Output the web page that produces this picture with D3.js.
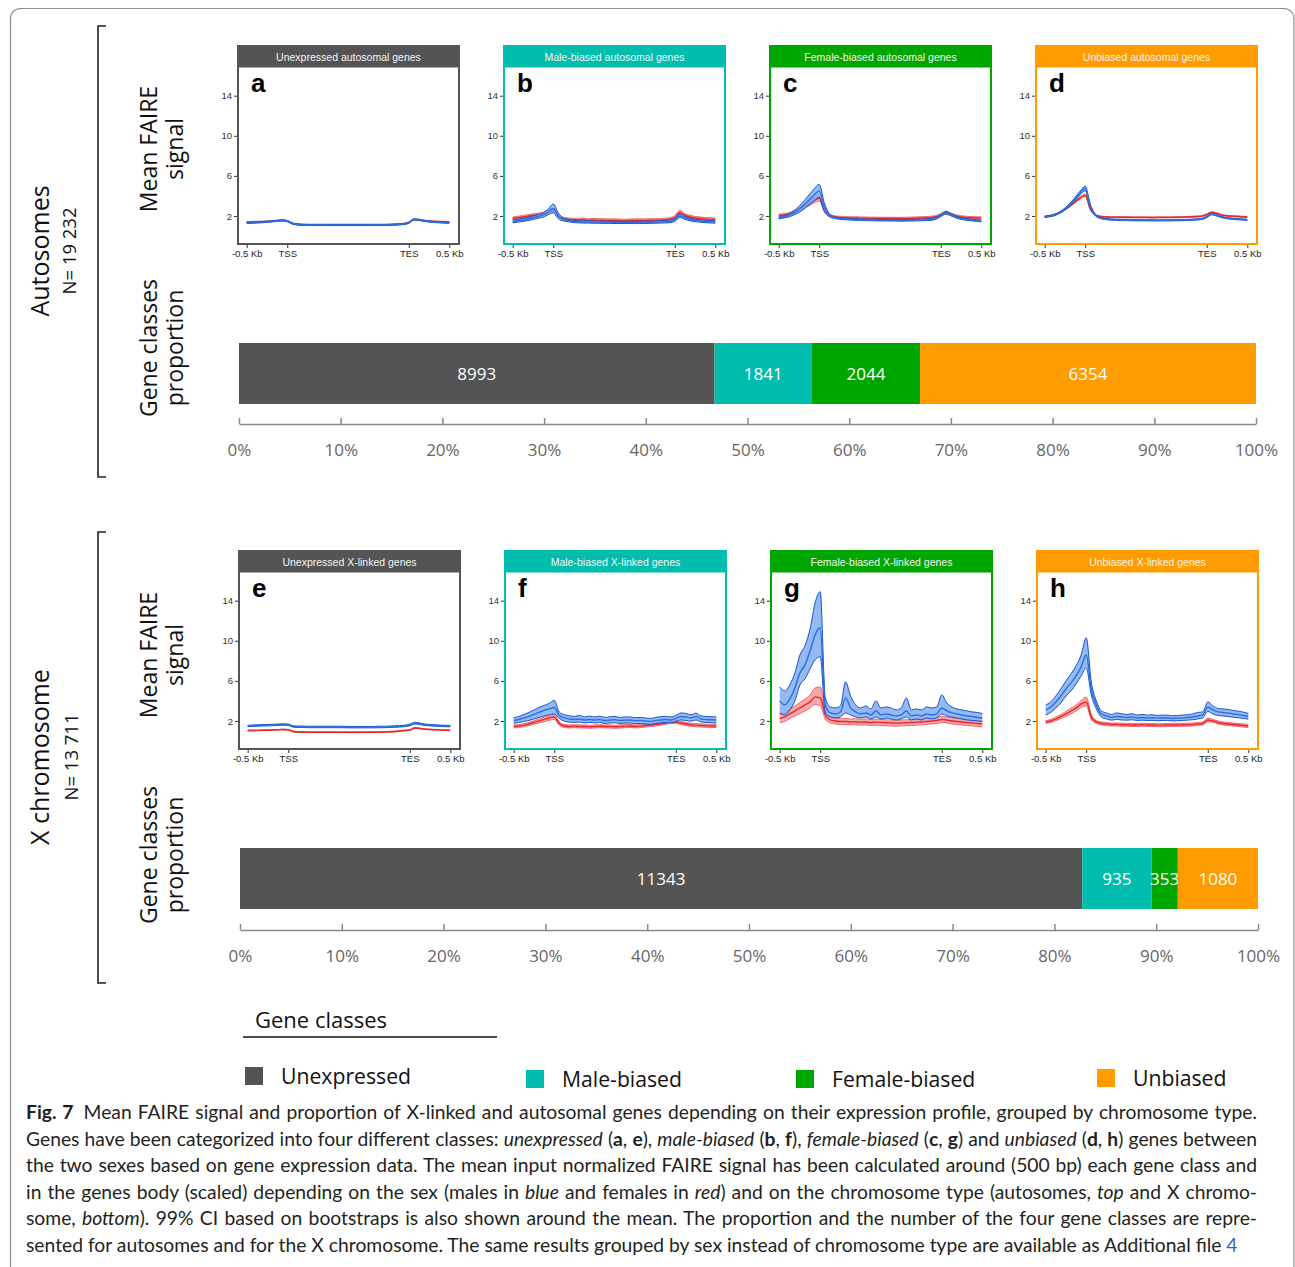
<!DOCTYPE html>
<html>
<head>
<meta charset="utf-8">
<script src="https://cdn.jsdelivr.net/npm/d3@7"></script>
<style>
  body { margin: 0; background: #fff; }
  svg { display: block; }
</style>
</head>
<body>
<div id="chart"></div>
<script>

// ---- data ----

// profile bins: -0.5 Kb = 0, TSS = 1, TES = 4, 0.5 Kb = 5
var binPos = [0,0.125,0.25,0.375,0.5,0.625,0.75,0.875,1,1.125,1.25,1.375,1.5,1.625,1.75,1.875,2,2.125,2.25,2.375,2.5,2.625,2.75,2.875,3,3.125,3.25,3.375,3.5,3.625,3.75,3.875,4,4.125,4.25,4.375,4.5,4.625,4.75,4.875,5];
var profileTicks = [0, 1, 4, 5];
var profileTickLabels = ["-0.5 Kb", "TSS", "TES", "0.5 Kb"];
var signalTicks = [2, 6, 10, 14];

// a - unexpressed autosomal
var aMale   = [1.30,1.32,1.35,1.38,1.42,1.46,1.52,1.57, 1.50,1.25,1.16,1.12,1.10,1.10,1.10,1.10, 1.10,1.10,1.10,1.10,1.10,1.10,1.10,1.10, 1.10,1.10,1.10,1.10,1.11,1.13,1.16,1.20, 1.32,1.66,1.62,1.52,1.45,1.40,1.37,1.34, 1.32];
var aMaleLo = [1.24,1.26,1.29,1.32,1.36,1.40,1.46,1.51, 1.44,1.19,1.10,1.06,1.04,1.04,1.04,1.04, 1.04,1.04,1.04,1.04,1.04,1.04,1.04,1.04, 1.04,1.04,1.04,1.04,1.05,1.07,1.10,1.14, 1.26,1.60,1.56,1.46,1.39,1.34,1.31,1.28, 1.26];
var aMaleHi = [1.36,1.38,1.41,1.44,1.48,1.52,1.58,1.63, 1.56,1.31,1.22,1.18,1.16,1.16,1.16,1.16, 1.16,1.16,1.16,1.16,1.16,1.16,1.16,1.16, 1.16,1.16,1.16,1.16,1.17,1.19,1.22,1.26, 1.38,1.72,1.68,1.58,1.51,1.46,1.43,1.40, 1.38];
var aFem    = [1.40,1.40,1.42,1.43,1.45,1.48,1.52,1.55, 1.48,1.24,1.16,1.13,1.12,1.12,1.12,1.12, 1.12,1.12,1.12,1.12,1.12,1.12,1.12,1.12, 1.12,1.12,1.12,1.12,1.13,1.15,1.18,1.22, 1.34,1.62,1.60,1.53,1.48,1.45,1.43,1.42, 1.40];
var aFemLo  = [1.35,1.35,1.37,1.38,1.40,1.43,1.47,1.50, 1.43,1.19,1.11,1.08,1.07,1.07,1.07,1.07, 1.07,1.07,1.07,1.07,1.07,1.07,1.07,1.07, 1.07,1.07,1.07,1.07,1.08,1.10,1.13,1.17, 1.29,1.57,1.55,1.48,1.43,1.40,1.38,1.37, 1.35];
var aFemHi  = [1.45,1.45,1.47,1.48,1.50,1.53,1.57,1.60, 1.53,1.29,1.21,1.18,1.17,1.17,1.17,1.17, 1.17,1.17,1.17,1.17,1.17,1.17,1.17,1.17, 1.17,1.17,1.17,1.17,1.18,1.20,1.23,1.27, 1.39,1.67,1.65,1.58,1.53,1.50,1.48,1.47, 1.45];

// b - male-biased autosomal
var bMale   = [1.45,1.52,1.60,1.70,1.82,1.95,2.10,2.40, 2.75,2.00,1.65,1.55,1.45,1.42,1.40,1.40, 1.38,1.38,1.37,1.37,1.36,1.35,1.36,1.36, 1.35,1.35,1.36,1.37,1.38,1.40,1.42,1.45, 1.60,2.00,1.80,1.65,1.55,1.50,1.45,1.42, 1.40];
var bMaleLo = [1.32,1.38,1.45,1.54,1.65,1.76,1.88,2.12, 2.32,1.72,1.50,1.43,1.34,1.31,1.29,1.29, 1.27,1.27,1.26,1.26,1.25,1.24,1.25,1.25, 1.24,1.24,1.25,1.26,1.27,1.29,1.30,1.32, 1.46,1.84,1.66,1.52,1.43,1.38,1.33,1.30, 1.28];
var bMaleHi = [1.58,1.66,1.75,1.86,1.99,2.14,2.32,2.68, 3.20,2.30,1.80,1.67,1.56,1.53,1.51,1.51, 1.49,1.49,1.48,1.48,1.47,1.46,1.47,1.47, 1.46,1.46,1.47,1.48,1.49,1.51,1.54,1.58, 1.75,2.18,1.95,1.78,1.67,1.62,1.57,1.54, 1.52];
var bFem    = [1.75,1.82,1.90,1.98,2.05,2.12,2.20,2.35, 2.55,2.00,1.72,1.65,1.62,1.60,1.65,1.58, 1.60,1.58,1.57,1.55,1.56,1.55,1.52,1.55, 1.55,1.56,1.55,1.57,1.58,1.60,1.62,1.68, 1.85,2.35,2.05,1.90,1.80,1.75,1.70,1.68, 1.65];
var bFemLo  = [1.60,1.67,1.75,1.83,1.90,1.97,2.04,2.17, 2.33,1.82,1.57,1.50,1.47,1.45,1.50,1.43, 1.45,1.43,1.42,1.40,1.41,1.40,1.37,1.40, 1.40,1.41,1.40,1.42,1.43,1.45,1.47,1.52, 1.67,2.13,1.88,1.74,1.65,1.60,1.55,1.53, 1.50];
var bFemHi  = [1.90,1.97,2.05,2.13,2.20,2.27,2.36,2.53, 2.77,2.18,1.87,1.80,1.77,1.75,1.80,1.73, 1.75,1.73,1.72,1.70,1.71,1.70,1.67,1.70, 1.70,1.71,1.70,1.72,1.73,1.75,1.77,1.84, 2.03,2.57,2.22,2.06,1.95,1.90,1.85,1.83, 1.80];

// c - female-biased autosomal
var cMale   = [1.80,1.90,2.05,2.30,2.65,3.10,3.60,4.10, 4.50,2.90,2.10,1.85,1.75,1.70,1.68,1.65, 1.62,1.62,1.60,1.60,1.58,1.58,1.57,1.57, 1.56,1.56,1.57,1.58,1.60,1.62,1.65,1.75, 2.05,2.35,2.15,1.90,1.75,1.65,1.60,1.55, 1.50];
var cMaleLo = [1.72,1.80,1.90,2.10,2.35,2.70,3.10,3.50, 3.85,2.50,1.95,1.76,1.67,1.62,1.60,1.57, 1.54,1.54,1.52,1.52,1.50,1.50,1.49,1.49, 1.48,1.48,1.49,1.50,1.52,1.54,1.56,1.65, 1.93,2.22,2.03,1.80,1.66,1.57,1.52,1.47, 1.42];
var cMaleHi = [1.88,2.00,2.20,2.50,2.95,3.50,4.10,4.70, 5.15,3.30,2.25,1.94,1.83,1.78,1.76,1.73, 1.70,1.70,1.68,1.68,1.66,1.66,1.65,1.65, 1.64,1.64,1.65,1.66,1.68,1.70,1.74,1.85, 2.17,2.48,2.27,2.00,1.84,1.73,1.68,1.63, 1.58];
var cFem    = [2.05,2.10,2.20,2.40,2.65,2.95,3.25,3.55, 3.75,2.60,2.05,1.90,1.85,1.82,1.80,1.80, 1.78,1.78,1.76,1.76,1.75,1.75,1.74,1.74, 1.74,1.75,1.76,1.78,1.80,1.82,1.85,1.92, 2.10,2.28,2.15,2.00,1.90,1.85,1.82,1.80, 1.78];
var cFemLo  = [1.93,1.98,2.07,2.25,2.47,2.75,3.02,3.30, 3.48,2.40,1.92,1.78,1.73,1.70,1.68,1.68, 1.66,1.66,1.64,1.64,1.63,1.63,1.62,1.62, 1.62,1.63,1.64,1.66,1.68,1.70,1.73,1.80, 1.97,2.15,2.02,1.88,1.78,1.73,1.70,1.68, 1.66];
var cFemHi  = [2.17,2.22,2.33,2.55,2.83,3.15,3.48,3.80, 4.02,2.80,2.18,2.02,1.97,1.94,1.92,1.92, 1.90,1.90,1.88,1.88,1.87,1.87,1.86,1.86, 1.86,1.87,1.88,1.90,1.92,1.94,1.97,2.04, 2.23,2.41,2.28,2.12,2.02,1.97,1.94,1.92, 1.90];

// d - unbiased autosomal
var dMale   = [1.90,1.98,2.10,2.35,2.70,3.15,3.70,4.30, 4.75,3.00,2.10,1.80,1.70,1.65,1.62,1.60, 1.60,1.58,1.58,1.57,1.57,1.56,1.56,1.56, 1.56,1.57,1.58,1.58,1.60,1.62,1.65,1.70, 1.90,2.20,2.05,1.88,1.78,1.72,1.68,1.65, 1.62];
var dMaleLo = [1.84,1.92,2.03,2.27,2.60,3.03,3.55,4.12, 4.52,2.82,2.02,1.74,1.64,1.59,1.56,1.54, 1.54,1.52,1.52,1.51,1.51,1.50,1.50,1.50, 1.50,1.51,1.52,1.52,1.54,1.56,1.59,1.64, 1.83,2.12,1.98,1.82,1.72,1.66,1.62,1.59, 1.56];
var dMaleHi = [1.96,2.04,2.17,2.43,2.80,3.27,3.85,4.48, 4.98,3.18,2.18,1.86,1.76,1.71,1.68,1.66, 1.66,1.64,1.64,1.63,1.63,1.62,1.62,1.62, 1.62,1.63,1.64,1.64,1.66,1.68,1.71,1.76, 1.97,2.28,2.12,1.94,1.84,1.78,1.74,1.71, 1.68];
var dFem    = [1.95,2.02,2.15,2.35,2.65,3.00,3.40,3.80, 4.05,2.70,2.10,1.95,1.90,1.88,1.88,1.87, 1.87,1.86,1.86,1.86,1.86,1.85,1.85,1.86, 1.86,1.86,1.87,1.88,1.90,1.92,1.94,1.98, 2.15,2.35,2.25,2.10,2.02,1.98,1.95,1.92, 1.90];
var dFemLo  = [1.90,1.97,2.10,2.29,2.58,2.92,3.30,3.68, 3.92,2.60,2.05,1.90,1.85,1.83,1.83,1.82, 1.82,1.81,1.81,1.81,1.81,1.80,1.80,1.81, 1.81,1.81,1.82,1.83,1.85,1.87,1.89,1.93, 2.09,2.28,2.19,2.05,1.97,1.93,1.90,1.87, 1.85];
var dFemHi  = [2.00,2.07,2.20,2.41,2.72,3.08,3.50,3.92, 4.18,2.80,2.15,2.00,1.95,1.93,1.93,1.92, 1.92,1.91,1.91,1.91,1.91,1.90,1.90,1.91, 1.91,1.91,1.92,1.93,1.95,1.97,1.99,2.03, 2.21,2.42,2.31,2.15,2.07,2.03,2.00,1.97, 1.95];

// e - unexpressed X-linked
var eMale   = [1.50,1.52,1.55,1.57,1.58,1.60,1.62,1.65, 1.62,1.45,1.42,1.42,1.40,1.40,1.40,1.40, 1.40,1.40,1.40,1.40,1.38,1.38,1.38,1.38, 1.38,1.38,1.40,1.40,1.42,1.44,1.46,1.50, 1.60,1.78,1.72,1.62,1.58,1.55,1.52,1.50, 1.48];
var eMaleLo = [1.43,1.45,1.48,1.50,1.51,1.53,1.55,1.58, 1.55,1.38,1.35,1.35,1.33,1.33,1.33,1.33, 1.33,1.33,1.33,1.33,1.31,1.31,1.31,1.31, 1.31,1.31,1.33,1.33,1.35,1.37,1.39,1.43, 1.52,1.69,1.64,1.55,1.51,1.48,1.45,1.43, 1.41];
var eMaleHi = [1.57,1.59,1.62,1.64,1.65,1.67,1.69,1.72, 1.69,1.52,1.49,1.49,1.47,1.47,1.47,1.47, 1.47,1.47,1.47,1.47,1.45,1.45,1.45,1.45, 1.45,1.45,1.47,1.47,1.49,1.51,1.53,1.57, 1.68,1.87,1.80,1.69,1.65,1.62,1.59,1.57, 1.55];
var eFem    = [1.05,1.05,1.06,1.07,1.08,1.10,1.12,1.15, 1.12,0.95,0.90,0.90,0.88,0.88,0.88,0.88, 0.88,0.88,0.87,0.87,0.87,0.87,0.87,0.87, 0.88,0.88,0.88,0.90,0.92,0.95,1.00,1.05, 1.10,1.30,1.25,1.18,1.15,1.12,1.10,1.08, 1.06];
var eFemLo  = [1.01,1.01,1.02,1.03,1.04,1.06,1.08,1.11, 1.08,0.91,0.86,0.86,0.84,0.84,0.84,0.84, 0.84,0.84,0.83,0.83,0.83,0.83,0.83,0.83, 0.84,0.84,0.84,0.86,0.88,0.91,0.96,1.01, 1.06,1.25,1.21,1.14,1.11,1.08,1.06,1.04, 1.02];
var eFemHi  = [1.09,1.09,1.10,1.11,1.12,1.14,1.16,1.19, 1.16,0.99,0.94,0.94,0.92,0.92,0.92,0.92, 0.92,0.92,0.91,0.91,0.91,0.91,0.91,0.91, 0.92,0.92,0.92,0.94,0.96,0.99,1.04,1.09, 1.14,1.35,1.29,1.22,1.19,1.16,1.14,1.12, 1.10];

// f - male-biased X-linked
var fMale   = [2.05,2.15,2.30,2.45,2.65,2.85,3.05,3.20, 3.35,2.55,2.30,2.20,2.15,2.20,2.10,2.15, 2.10,2.15,2.05,2.10,2.12,2.05,2.08,2.10, 2.02,2.05,2.00,1.95,2.05,2.10,2.15,2.10, 2.25,2.45,2.40,2.30,2.45,2.20,2.15,2.12, 2.10];
var fMaleLo = [1.78,1.85,1.95,2.05,2.20,2.35,2.50,2.62, 2.70,2.25,1.98,1.88,1.85,1.90,1.80,1.85, 1.80,1.85,1.75,1.80,1.82,1.75,1.78,1.80, 1.72,1.75,1.70,1.65,1.75,1.80,1.85,1.80, 1.95,2.10,2.05,1.98,2.10,1.90,1.85,1.82, 1.80];
var fMaleHi = [2.33,2.45,2.65,2.85,3.10,3.35,3.55,3.75, 4.05,2.90,2.62,2.52,2.45,2.55,2.40,2.48, 2.40,2.48,2.35,2.42,2.45,2.35,2.40,2.40, 2.32,2.35,2.30,2.25,2.35,2.42,2.45,2.40, 2.55,2.80,2.75,2.62,2.78,2.50,2.45,2.42, 2.40];
var fFem    = [1.45,1.50,1.58,1.70,1.85,2.00,2.15,2.30, 2.40,1.75,1.50,1.45,1.48,1.45,1.45,1.42, 1.45,1.48,1.45,1.45,1.42,1.45,1.48,1.50, 1.45,1.48,1.55,1.58,1.65,1.72,1.80,1.90, 1.90,1.80,1.70,1.62,1.58,1.55,1.52,1.50, 1.50];
var fFemLo  = [1.30,1.35,1.43,1.54,1.68,1.80,1.93,2.07, 2.15,1.58,1.35,1.30,1.33,1.30,1.30,1.27, 1.30,1.33,1.30,1.30,1.27,1.30,1.33,1.35, 1.30,1.33,1.40,1.43,1.50,1.57,1.65,1.75, 1.75,1.65,1.55,1.47,1.43,1.40,1.37,1.35, 1.35];
var fFemHi  = [1.60,1.65,1.73,1.86,2.02,2.20,2.37,2.53, 2.65,1.92,1.65,1.60,1.63,1.60,1.60,1.57, 1.60,1.63,1.60,1.60,1.57,1.60,1.63,1.65, 1.60,1.63,1.70,1.73,1.80,1.87,1.95,2.05, 2.05,1.95,1.85,1.77,1.73,1.70,1.67,1.65, 1.65];

// g - female-biased X-linked
var gMale   = [4.00,3.60,4.20,5.30,6.80,7.60,9.00,10.60, 11.30,3.60,2.80,2.70,2.90,4.30,3.30,2.90, 2.70,2.80,2.60,3.00,2.60,2.70,2.60,2.50, 2.60,3.00,2.50,2.60,2.50,2.70,2.60,2.70, 3.30,3.00,2.80,2.70,2.60,2.50,2.45,2.35, 2.30];
var gMaleLo = [2.80,2.60,3.10,4.00,5.60,6.20,7.20,8.10, 8.40,2.80,2.40,2.30,2.40,2.80,2.60,2.40, 2.30,2.40,2.20,2.40,2.20,2.30,2.20,2.10, 2.20,2.40,2.10,2.20,2.10,2.30,2.20,2.30, 2.70,2.50,2.40,2.30,2.20,2.10,2.05,2.00, 1.95];
var gMaleHi = [5.40,5.00,5.60,6.80,8.60,9.50,11.20,13.80, 14.90,4.30,3.40,3.30,3.50,5.90,4.50,3.60, 3.30,3.50,3.20,4.00,3.30,3.40,3.30,3.10, 3.30,4.30,3.10,3.20,3.10,3.40,3.30,3.40, 4.60,3.80,3.40,3.20,3.10,3.00,2.90,2.85, 2.75];
var gFem    = [2.25,2.40,2.70,3.00,3.30,3.60,3.90,4.40, 4.30,2.60,2.10,2.00,1.95,1.95,1.90,1.92, 1.88,1.90,1.85,1.88,1.85,1.82,1.80,1.78, 1.80,1.82,1.85,1.88,1.90,1.95,2.00,2.05, 2.15,2.10,2.00,1.95,1.90,1.85,1.80,1.75, 1.72];
var gFemLo  = [1.85,1.95,2.25,2.50,2.75,3.00,3.30,3.65, 3.50,2.20,1.80,1.70,1.65,1.65,1.60,1.62, 1.58,1.60,1.55,1.58,1.55,1.52,1.50,1.48, 1.50,1.52,1.55,1.58,1.60,1.65,1.70,1.75, 1.85,1.80,1.70,1.65,1.60,1.55,1.50,1.45, 1.42];
var gFemHi  = [2.60,2.85,3.15,3.50,3.85,4.20,4.60,5.30, 5.40,3.00,2.40,2.30,2.25,2.25,2.20,2.22, 2.18,2.20,2.15,2.18,2.15,2.12,2.10,2.08, 2.10,2.12,2.15,2.18,2.20,2.25,2.30,2.35, 2.45,2.40,2.30,2.25,2.20,2.15,2.10,2.05, 2.02];

// h - unbiased X-linked
var hMale   = [3.10,3.40,3.90,4.50,5.20,5.80,6.50,7.40, 8.60,5.20,3.60,2.70,2.50,2.35,2.45,2.40, 2.35,2.40,2.30,2.35,2.30,2.32,2.28,2.30, 2.30,2.25,2.28,2.30,2.35,2.40,2.50,2.60, 3.40,3.10,2.90,2.85,2.80,2.70,2.65,2.55, 2.45];
var hMaleLo = [2.60,2.85,3.30,3.80,4.50,5.00,5.70,6.50, 7.30,4.60,3.20,2.40,2.20,2.08,2.15,2.10, 2.08,2.12,2.05,2.08,2.05,2.06,2.02,2.05, 2.05,2.00,2.02,2.05,2.08,2.12,2.20,2.30, 2.95,2.70,2.55,2.50,2.45,2.38,2.32,2.25, 2.18];
var hMaleHi = [3.60,3.90,4.50,5.20,6.00,6.70,7.50,8.60, 10.30,5.90,4.00,3.00,2.80,2.65,2.80,2.72, 2.65,2.72,2.60,2.65,2.58,2.62,2.55,2.58, 2.58,2.52,2.55,2.58,2.62,2.70,2.85,2.90, 3.90,3.50,3.25,3.20,3.15,3.05,2.98,2.88, 2.75];
var hFem    = [1.90,2.00,2.20,2.45,2.70,3.00,3.30,3.70, 3.90,2.40,1.90,1.75,1.70,1.65,1.65,1.62, 1.62,1.60,1.60,1.62,1.60,1.60,1.58,1.58, 1.60,1.60,1.60,1.62,1.62,1.65,1.70,1.75, 2.10,2.00,1.85,1.75,1.70,1.65,1.60,1.55, 1.50];
var hFemLo  = [1.75,1.85,2.02,2.25,2.45,2.72,3.00,3.35, 3.50,2.15,1.75,1.60,1.55,1.50,1.50,1.47, 1.47,1.45,1.45,1.47,1.45,1.45,1.43,1.43, 1.45,1.45,1.45,1.47,1.47,1.50,1.55,1.60, 1.92,1.85,1.70,1.60,1.55,1.50,1.45,1.40, 1.35];
var hFemHi  = [2.05,2.15,2.38,2.65,2.95,3.28,3.60,4.05, 4.40,2.65,2.05,1.90,1.85,1.80,1.80,1.77, 1.77,1.75,1.75,1.77,1.75,1.75,1.73,1.73, 1.75,1.75,1.75,1.77,1.77,1.80,1.85,1.90, 2.28,2.15,2.00,1.90,1.85,1.80,1.75,1.70, 1.65];

// gene class counts
var geneClasses = ["Unexpressed", "Male-biased", "Female-biased", "Unbiased"];
var classColors = ["#545454", "#00bdae", "#00a600", "#ff9c00"];
var autoCounts = [8993, 1841, 2044, 6354];
var xCounts = [11343, 935, 353, 1080];
var pctTicks = [0, 0.1, 0.2, 0.3, 0.4, 0.5, 0.6, 0.7, 0.8, 0.9, 1];

var autoTitles = ["Unexpressed autosomal genes", "Male-biased autosomal genes", "Female-biased autosomal genes", "Unbiased autosomal genes"];
var xTitles = ["Unexpressed X-linked genes", "Male-biased X-linked genes", "Female-biased X-linked genes", "Unbiased X-linked genes"];
var panelLetters = ["a", "b", "c", "d", "e", "f", "g", "h"];

// ---- layout ----
var W = 1295, H = 1267;
var PANEL_W = 221, PANEL_H = 198, HEADER_H = 21.5, COL_STEP = 266;
var ARIAL = "'Liberation Sans', Arial, sans-serif";
var SANS = "'Open Sans', 'Noto Sans', sans-serif";

var svg = d3.select("#chart").append("svg")
        .attr("width", W)
        .attr("height", H);

svg.append("rect")
        .attr("width", W).attr("height", H)
        .attr("fill", "#fff");

// outer figure frame
svg.append("rect")
        .attr("x", 10.5).attr("y", 8.5)
        .attr("width", 1283.5).attr("height", 1320)
        .attr("rx", 10)
        .attr("fill", "none")
        .attr("stroke", "#8c8c8c")
        .attr("stroke-width", 1.2);

function drawProfile(left, top, cls, title, letter, p, id) {

        var color = classColors[cls];
        var bottom = top + PANEL_H;
        var g = svg.append("g");

        var x = d3.scaleLinear().domain([0, 5]).range([left + 8.7, left + 211.3]);
        var y = d3.scaleLinear().domain([0, 14]).range([top + 190, top + 49.7]);

        g.append("rect")
                .attr("x", left).attr("y", top)
                .attr("width", PANEL_W).attr("height", PANEL_H)
                .attr("fill", "#fff");

        svg.append("clipPath").attr("id", "clip" + id)
                .append("rect")
                .attr("x", left).attr("y", top + HEADER_H)
                .attr("width", PANEL_W).attr("height", PANEL_H - HEADER_H);

        var plot = g.append("g").attr("clip-path", "url(#clip" + id + ")");

        var series = [
                { mid: p.fem, lo: p.femLo, hi: p.femHi, line: "#e8262b", band: "#f48c8c", edge: "#f06a6a", op: 0.75 },
                { mid: p.male, lo: p.maleLo, hi: p.maleHi, line: "#2a6fe0", band: "#7aa7ef", edge: "#1652d2", op: 0.8 }
        ];

        series.forEach(function(s) {
                var area = d3.area()
                        .x(function(d, i) { return x(binPos[i]); })
                        .y0(function(d, i) { return y(s.lo[i]); })
                        .y1(function(d, i) { return y(s.hi[i]); })
                        .curve(d3.curveMonotoneX);
                var line = function(arr) {
                        return d3.line()
                                .x(function(d, i) { return x(binPos[i]); })
                                .y(function(d) { return y(d); })
                                .curve(d3.curveMonotoneX)(arr);
                };
                plot.append("path")
                        .attr("d", area(s.mid))
                        .attr("fill", s.band)
                        .attr("fill-opacity", s.op);
                plot.append("path").attr("d", line(s.lo))
                        .attr("fill", "none").attr("stroke", s.edge).attr("stroke-width", 1);
                plot.append("path").attr("d", line(s.hi))
                        .attr("fill", "none").attr("stroke", s.edge).attr("stroke-width", 1);
                plot.append("path").attr("d", line(s.mid))
                        .attr("fill", "none").attr("stroke", s.line).attr("stroke-width", 1.4);
        });

        // border and strip
        g.append("rect")
                .attr("x", left).attr("y", top)
                .attr("width", PANEL_W).attr("height", PANEL_H)
                .attr("fill", "none")
                .attr("stroke", color)
                .attr("stroke-width", 2);
        g.append("rect")
                .attr("x", left).attr("y", top)
                .attr("width", PANEL_W).attr("height", HEADER_H)
                .attr("fill", color);
        g.append("text")
                .attr("x", left + PANEL_W / 2)
                .attr("y", top + HEADER_H / 2 + 4)
                .attr("text-anchor", "middle")
                .attr("font-family", ARIAL)
                .attr("font-size", 10.5)
                .attr("fill", "#f4f4f4")
                .text(title);

        g.append("text")
                .attr("x", left + 13)
                .attr("y", top + 46)
                .attr("font-family", ARIAL)
                .attr("font-weight", "bold")
                .attr("font-size", 26)
                .attr("fill", "#000")
                .text(letter);

        var ya = g.append("g")
                .attr("transform", "translate(" + (left - 1) + ",0)")
                .call(d3.axisLeft(y).tickValues(signalTicks).tickSize(3).tickPadding(2));
        ya.select(".domain").remove();
        ya.attr("font-family", ARIAL).attr("font-size", 9.5);
        ya.selectAll("line").attr("stroke", "#333");
        ya.selectAll("text").attr("fill", "#333");

        var xa = g.append("g")
                .attr("transform", "translate(0," + (bottom + 1) + ")")
                .call(d3.axisBottom(x).tickValues(profileTicks)
                        .tickFormat(function(d, i) { return profileTickLabels[i]; })
                        .tickSize(3).tickPadding(2));
        xa.select(".domain").remove();
        xa.attr("font-family", ARIAL).attr("font-size", 9.5);
        xa.selectAll("line").attr("stroke", "#333");
        xa.selectAll("text").attr("fill", "#222");
}

function drawBar(counts, left, right, barTop, barH, axisY) {

        var total = d3.sum(counts);
        var x = d3.scaleLinear().domain([0, 1]).range([left, right]);
        var g = svg.append("g");
        var cum = 0;

        counts.forEach(function(c, i) {
                var x0 = x(cum / total), x1 = x((cum + c) / total);
                g.append("rect")
                        .attr("x", x0).attr("y", barTop)
                        .attr("width", x1 - x0).attr("height", barH)
                        .attr("fill", classColors[i]);
                g.append("text")
                        .attr("x", (x0 + x1) / 2)
                        .attr("y", barTop + barH / 2 + 6)
                        .attr("text-anchor", "middle")
                        .attr("font-family", SANS)
                        .attr("font-size", 17)
                        .attr("fill", "#fff")
                        .text(c);
                cum += c;
        });

        var ax = g.append("g")
                .attr("transform", "translate(0," + axisY + ")")
                .call(d3.axisBottom(x).tickValues(pctTicks)
                        .tickFormat(d3.format(".0%"))
                        .tickSizeInner(-6).tickSizeOuter(0).tickPadding(20));
        ax.attr("font-family", SANS).attr("font-size", 17);
        ax.select(".domain").attr("stroke", "#8a8a8a").attr("stroke-width", 1.5);
        ax.selectAll("line").attr("stroke", "#8a8a8a").attr("stroke-width", 1.5);
        ax.selectAll("text").attr("fill", "#666");
}

function rotLabel(x, y, txt, size) {
        svg.append("text")
                .attr("transform", "translate(" + x + "," + y + ") rotate(-90)")
                .attr("text-anchor", "middle")
                .attr("font-family", SANS)
                .attr("font-size", size)
                .attr("fill", "#111")
                .text(txt);
}

function drawBracket(y0, y1) {
        svg.append("path")
                .attr("d", "M106," + y0 + "H98V" + y1 + "H106")
                .attr("fill", "none")
                .attr("stroke", "#222")
                .attr("stroke-width", 1.6);
}

// ---- two chromosome groups ----
var autoProfiles = [
        { male: aMale, maleLo: aMaleLo, maleHi: aMaleHi, fem: aFem, femLo: aFemLo, femHi: aFemHi },
        { male: bMale, maleLo: bMaleLo, maleHi: bMaleHi, fem: bFem, femLo: bFemLo, femHi: bFemHi },
        { male: cMale, maleLo: cMaleLo, maleHi: cMaleHi, fem: cFem, femLo: cFemLo, femHi: cFemHi },
        { male: dMale, maleLo: dMaleLo, maleHi: dMaleHi, fem: dFem, femLo: dFemLo, femHi: dFemHi }
];
var xProfiles = [
        { male: eMale, maleLo: eMaleLo, maleHi: eMaleHi, fem: eFem, femLo: eFemLo, femHi: eFemHi },
        { male: fMale, maleLo: fMaleLo, maleHi: fMaleHi, fem: fFem, femLo: fFemLo, femHi: fFemHi },
        { male: gMale, maleLo: gMaleLo, maleHi: gMaleHi, fem: gFem, femLo: gFemLo, femHi: gFemHi },
        { male: hMale, maleLo: hMaleLo, maleHi: hMaleHi, fem: hFem, femLo: hFemLo, femHi: hFemHi }
];

for (var k = 0; k < 4; k++) {
        drawProfile(238 + k * COL_STEP, 46, k, autoTitles[k], panelLetters[k], autoProfiles[k], k);
        drawProfile(239 + k * COL_STEP, 551, k, xTitles[k], panelLetters[k + 4], xProfiles[k], k + 4);
}

drawBar(autoCounts, 239, 1256, 343, 61, 424);
drawBar(xCounts, 240, 1258, 848, 61, 930);

drawBracket(26, 477);
drawBracket(532, 983);

rotLabel(49, 251, "Autosomes", 25);
rotLabel(76, 251, "N= 19 232", 18.5);
rotLabel(157, 149, "Mean FAIRE", 23);
rotLabel(183, 149, "signal", 23);
rotLabel(157, 348, "Gene classes", 23);
rotLabel(183, 348, "proportion", 23);

rotLabel(49, 757, "X chromosome", 25);
rotLabel(78, 757, "N= 13 711", 18.5);
rotLabel(157, 655, "Mean FAIRE", 23);
rotLabel(183, 655, "signal", 23);
rotLabel(157, 855, "Gene classes", 23);
rotLabel(183, 855, "proportion", 23);

// ---- legend ----
var legendX = [245, 526, 796, 1097];
var legendY = [1067, 1070, 1070, 1069];

svg.append("text")
        .attr("x", 255).attr("y", 1028)
        .attr("font-family", SANS).attr("font-size", 22)
        .attr("fill", "#111")
        .text("Gene classes");
svg.append("line")
        .attr("x1", 243).attr("x2", 497)
        .attr("y1", 1037).attr("y2", 1037)
        .attr("stroke", "#111").attr("stroke-width", 1.5);

geneClasses.forEach(function(name, i) {
        svg.append("rect")
                .attr("x", legendX[i]).attr("y", legendY[i])
                .attr("width", 18).attr("height", 18)
                .attr("fill", classColors[i]);
        svg.append("text")
                .attr("x", legendX[i] + 36).attr("y", legendY[i] + 17)
                .attr("font-family", SANS).attr("font-size", 21.2)
                .attr("fill", "#111")
                .text(name);
});

// ---- caption ----
var captionLines = [
        [["b", "Fig. 7"], ["g", "Mean FAIRE signal and proportion of X-linked and autosomal genes depending on their expression profile, grouped by chromosome type."]],
        [["n", "Genes have been categorized into four different classes: "], ["i", "unexpressed"], ["n", " ("], ["b", "a"], ["n", ", "], ["b", "e"], ["n", "), "], ["i", "male-biased"], ["n", " ("], ["b", "b"], ["n", ", "], ["b", "f"], ["n", "), "], ["i", "female-biased"], ["n", " ("], ["b", "c"], ["n", ", "], ["b", "g"], ["n", ") and "], ["i", "unbiased"], ["n", " ("], ["b", "d"], ["n", ", "], ["b", "h"], ["n", ") genes between"]],
        [["n", "the two sexes based on gene expression data. The mean input normalized FAIRE signal has been calculated around (500 bp) each gene class and"]],
        [["n", "in the genes body (scaled) depending on the sex (males in "], ["i", "blue"], ["n", " and females in "], ["i", "red"], ["n", ") and on the chromosome type (autosomes, "], ["i", "top"], ["n", " and X chromo-"]],
        [["n", "some, "], ["i", "bottom"], ["n", "). 99% CI based on bootstraps is also shown around the mean. The proportion and the number of the four gene classes are repre-"]],
        [["n", "sented for autosomes and for the X chromosome. The same results grouped by sex instead of chromosome type are available as Additional file "], ["l", "4"]]
];

var CAP_LEFT = 26, CAP_RIGHT = 1257, CAP_TOP = 1119, CAP_STEP = 26.6;

captionLines.forEach(function(parts, li) {
        var t = svg.append("text")
                .attr("x", CAP_LEFT)
                .attr("y", CAP_TOP + li * CAP_STEP)
                .attr("font-family", "Lato, 'Open Sans', sans-serif")
                .attr("font-size", 19.3)
                .attr("fill", "#231f20")
                .style("white-space", "pre");
        var full = "";
        parts.forEach(function(pt) {
                var s = t.append("tspan").text(pt[1]);
                if (pt[0] == "b") s.attr("font-weight", "bold");
                if (pt[0] == "i") s.attr("font-style", "italic");
                if (pt[0] == "l") s.attr("fill", "#3a5fd0");
                if (pt[0] == "g") s.attr("dx", 10);
                full += pt[1];
        });
        if (li < captionLines.length - 1) {
                var w = t.node().getBBox().width;
                var spaces = (full.match(/ /g) || []).length;
                if (spaces > 0) t.attr("word-spacing", (CAP_RIGHT - CAP_LEFT - w) / spaces);
        }
});

</script>
</body>
</html>
